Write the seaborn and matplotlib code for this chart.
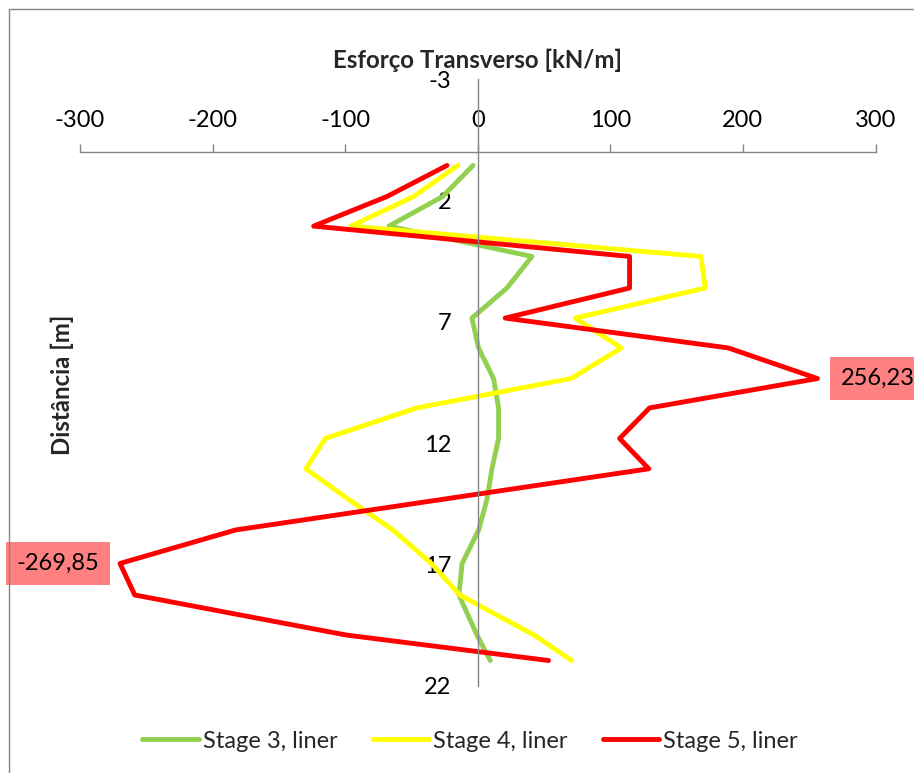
import matplotlib
matplotlib.use("Agg")
import matplotlib.pyplot as plt
import seaborn as sns
import pandas as pd
from matplotlib.patches import Rectangle

# ---- data ----
depth = [0.55, 1.83, 3.05, 4.30, 5.60, 6.84, 8.07, 9.33, 10.54, 11.80, 13.05,
         14.30, 15.57, 16.95, 18.25, 19.90, 20.95]
stage3 = [-3.6, -26.5, -67.0, 40.9, 22.0, -4.4, 0.6, 11.9, 15.7, 15.7, 10.7,
          7.0, 0.7, -11.8, -14.2, -0.6, 9.4]
stage4 = [-15.0, -48.4, -95.6, 168.3, 171.6, 73.5, 108.4, 70.3, -45.9, -115.0, -129.6,
          -97.7, -64.0, -35.0, -13.5, 42.5, 70.8]
stage5 = [-23.2, -68.5, -123.8, 114.5, 114.5, 20.7, 189.0, 256.23, 129.6, 107.0, 129.0,
          -25.5, -182.6, -269.85, -258.7, -99.2, 53.4]
series_names = ["Stage 3, liner", "Stage 4, liner", "Stage 5, liner"]
series_colors = ["#92D050", "#FFFF00", "#FF0000"]
x_ticks = [-300, -200, -100, 0, 100, 200, 300]
y_ticks = [-3, 2, 7, 12, 17, 22]
title = "Esforço Transverso [kN/m]"
ylabel = "Distância [m]"

sns.set_style("white")
plt.rcParams["font.family"] = ["Lato", "DejaVu Sans"]
plt.rcParams["axes.unicode_minus"] = False

rows = []
for name, vals in zip(series_names, [stage3, stage4, stage5]):
    for d, v in zip(depth, vals):
        rows.append({"series": name, "depth": d, "value": v})
df = pd.DataFrame(rows)

W, H = 914, 773
fig = plt.figure(figsize=(W / 100, H / 100), dpi=100)
ax = fig.add_axes([80 / W, 1 - 686 / H, (875.5 - 80) / W, (686 - 79.3) / H])
ax.set_facecolor("none")

sns.lineplot(data=df, x="value", y="depth", hue="series",
             palette=dict(zip(series_names, series_colors)),
             sort=False, estimator=None, linewidth=3.5, ax=ax, legend=True)

ax.set_xlim(x_ticks[0], x_ticks[-1])
ax.set_ylim(y_ticks[-1], y_ticks[0])
ax.set_xticks(x_ticks)
ax.set_yticks(y_ticks)
ax.set_xlabel("")
ax.set_ylabel("")

axis_col = "#868686"
ax.spines["right"].set_visible(False)
ax.spines["bottom"].set_visible(False)
ax.spines["top"].set_position(("data", 0))
ax.spines["left"].set_position(("data", 0))
for s in ["top", "left"]:
    ax.spines[s].set_color(axis_col)
    ax.spines[s].set_linewidth(1.0)
ax.xaxis.tick_top()
ax.tick_params(axis="x", direction="out", length=6, width=1.0, color=axis_col,
               pad=9, labelsize=17, labelcolor="black")
ax.tick_params(axis="y", direction="out", length=6, width=1.0, color=axis_col,
               pad=13, labelsize=17, labelcolor="black")

# data labels for extremes
i_max = stage5.index(max(stage5))
i_min = stage5.index(min(stage5))
for idx, off, ha in [(i_max, 23, "left"), (i_min, -21, "right")]:
    v = stage5[idx]
    ax.annotate(f"{v:.2f}".replace(".", ","), xy=(v, depth[idx]),
                xytext=(off, 0), textcoords="offset pixels", ha=ha, va="center",
                fontsize=17, color="black", annotation_clip=False,
                bbox=dict(boxstyle="square,pad=0.45", facecolor="#FF8080",
                          edgecolor="none"))

# title & axis label
fig.text(477.5 / W, 1 - 60 / H, title, ha="center", va="center",
         fontsize=17.3, fontweight="bold")
fig.text(62 / W, 1 - 385 / H, ylabel, ha="center", va="center",
         rotation=90, fontsize=17.3, fontweight="bold")

# legend
handles, labels = ax.get_legend_handles_labels()
ax.legend(handles, labels, loc="center", bbox_to_anchor=(470 / W, 1 - 741 / H),
          bbox_transform=fig.transFigure, ncol=3, frameon=False, fontsize=17,
          handlelength=2.4, handletextpad=0.15, columnspacing=1.5)
for line in ax.get_legend().get_lines():
    line.set_linewidth(3.5)

# chart border
fig.patches.append(Rectangle((9 / W, -0.1), 1.2, 1.1 - 9 / H,
                             transform=fig.transFigure, fill=False,
                             edgecolor=axis_col, linewidth=1.0))

fig.savefig("out.png", dpi=100)
